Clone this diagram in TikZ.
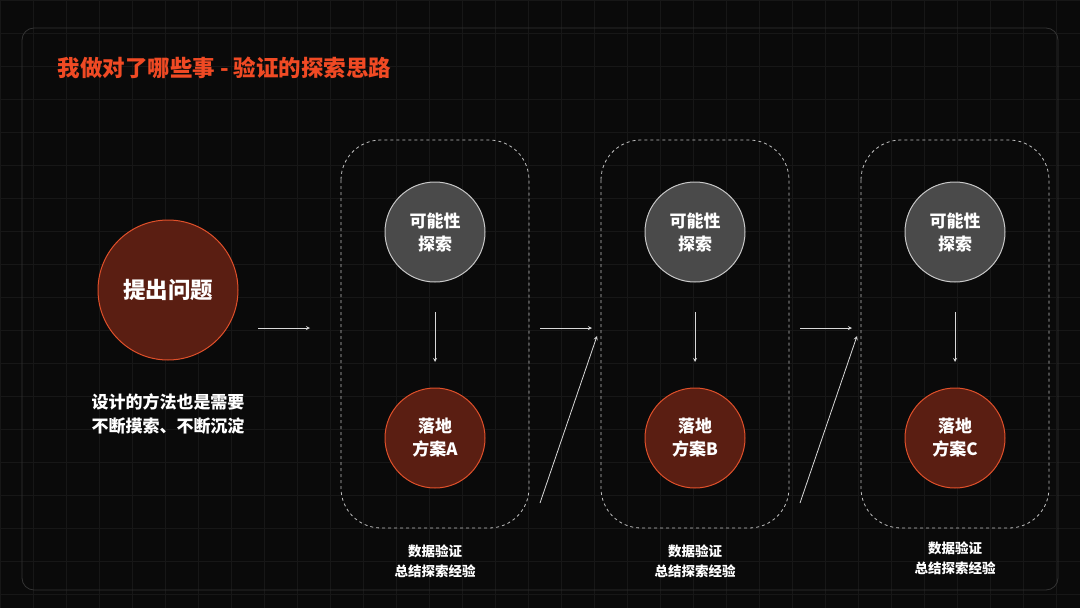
\documentclass[tikz,border=0pt]{standalone}
\usepackage{fontspec}
\setmainfont{Noto Sans CJK SC}
\begin{document}
\begin{tikzpicture}[x=1pt,y=-1pt,
  txt/.style={text=white,font=\bfseries\fontsize{17}{23}\selectfont,align=center},
  lbl/.style={text=white,font=\bfseries\fontsize{13.5}{20}\selectfont,align=center},
  redc/.style={circle,minimum size=100pt,inner sep=0pt,fill=redfill,draw=redline,line width=1pt,txt},
  grayc/.style={circle,minimum size=100pt,inner sep=0pt,fill=grayfill,draw=grayline,line width=1pt,txt},
  arr/.style={->,>=stealth,draw=white!85!black,line width=0.8pt},
  dbox/.style={draw=white!75!black,dashed,line width=0.8pt,rounded corners=40pt}]
\definecolor{redfill}{HTML}{5A1E12}
\definecolor{redline}{HTML}{E0502A}
\definecolor{grayfill}{HTML}{4A4A4A}
\definecolor{grayline}{HTML}{C8C8C8}
\definecolor{ttl}{HTML}{F04A24}
\fill[black!96!white] (0,0) rectangle (1080,608);
\useasboundingbox (0,0) rectangle (1080,608);
\foreach \i in {0,33,...,1080} \draw[white!9!black,line width=0.5pt] (\i,0) -- (\i,608);
\foreach \j in {0,33,...,608} \draw[white!9!black,line width=0.5pt] (0,\j) -- (1080,\j);
\draw[white!20!black,line width=0.8pt,rounded corners=12pt] (22,28) rectangle (1058,590);
\node[anchor=west,text=ttl,font=\bfseries\fontsize{22.5}{26}\selectfont] (title) at (54,68) {我做对了哪些事 - 验证的探索思路};
\node[redc,minimum size=140pt,font=\bfseries\fontsize{22.5}{26}\selectfont] (q) at (168,290) {提出问题};
\node[txt,font=\bfseries\fontsize{17}{24}\selectfont] (qt) at (168,414) {设计的方法也是需要\\不断摸索、不断沉淀};
\coordinate (a0) at (258,328); \coordinate (a1) at (310,328);
\draw[arr] (a0) -- (a1);
\foreach \n/\x/\L/\ly in {A/435/A/561,B/695/B/561,C/955/C/558}{
  \draw[dbox] (\x-94,140) rectangle (\x+94,528);
  \node[grayc] (g\n) at (\x,232) {可能性\\探索};
  \node[redc] (r\n) at (\x,438) {落地\\方案\L};
  \coordinate (d0\n) at (\x,312); \coordinate (d1\n) at (\x,362);
  \draw[arr] (d0\n) -- (d1\n);
  \node[lbl] (l\n) at (\x,\ly) {数据验证\\总结探索经验};
}
\foreach \n/\x in {1/540,2/800}{
  \coordinate (h0\n) at (\x,328); \coordinate (h1\n) at (\x+52,328);
  \draw[arr] (h0\n) -- (h1\n);
  \coordinate (s0\n) at (\x,503); \coordinate (s1\n) at (\x+57,336);
  \draw[arr] (s0\n) -- (s1\n);
}
\end{tikzpicture}
\end{document}
